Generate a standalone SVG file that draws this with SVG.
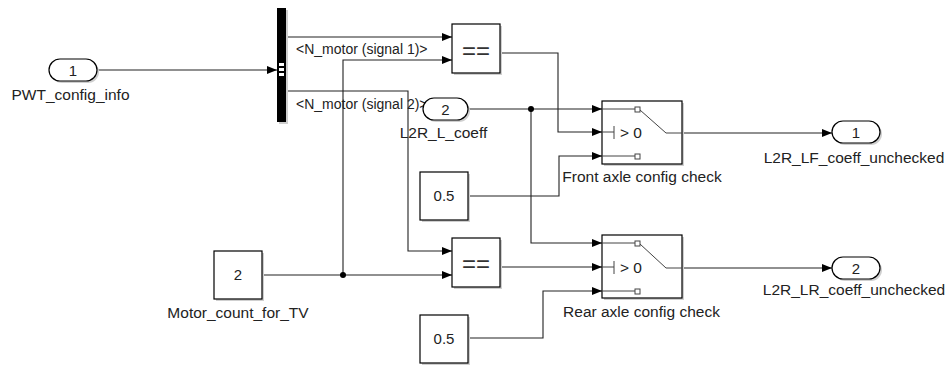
<svg xmlns="http://www.w3.org/2000/svg" width="949" height="365" viewBox="0 0 949 365">
<defs>
<marker id="arr" viewBox="0 0 10 8" refX="10" refY="4" markerWidth="10" markerHeight="8" markerUnits="userSpaceOnUse" orient="auto">
<path d="M0,0 L10,4 L0,8 Z" fill="#000"/>
</marker>
</defs>
<style>
.blk{fill:#fff;stroke:#000;stroke-width:1.2}
.shd{fill:#cfcfcf;stroke:none}
.ln{fill:none;stroke:#222;stroke-width:1.1}
.ar{marker-end:url(#arr)}
.lbl{font-family:"Liberation Sans",Arial,sans-serif;font-size:15.5px;fill:#222}
.sig{font-family:"Liberation Sans",Arial,sans-serif;font-size:14px;fill:#222}
.num{font-family:"Liberation Sans",Arial,sans-serif;font-size:15px;fill:#222;text-anchor:middle}
.eq{font-family:"Liberation Sans",Arial,sans-serif;font-size:24px;fill:#333;text-anchor:middle}
.mid{text-anchor:middle}
.sw{fill:none;stroke:#444;stroke-width:1}
.dot{fill:#000}
</style>

<g id="connectors">
<path class="ln ar" d="M97,70 H277"/>
<path class="ln ar" d="M286,37 H452"/>
<path class="ln ar" d="M286,91 H408 V251 H452"/>
<path class="ln ar" d="M262,275 H452"/>
<path class="ln ar" d="M343,275 V60 H452"/>
<path class="ln ar" d="M500,53 H558 V132 H602"/>
<path class="ln ar" d="M468,109 H602"/>
<path class="ln ar" d="M531,109 V243 H602"/>
<path class="ln ar" d="M468,196 H559 V156 H602"/>
<path class="ln ar" d="M682,133 H832"/>
<path class="ln ar" d="M500,267 H602"/>
<path class="ln ar" d="M468,338 H543 V291 H602"/>
<path class="ln ar" d="M682,268 H832"/>
<circle class="dot" cx="531" cy="109" r="3"/>
<circle class="dot" cx="343" cy="275" r="3"/>
<text class="sig" x="296" y="54">&lt;N_motor (signal 1)&gt;</text>
<text class="sig" x="296" y="109">&lt;N_motor (signal 2)&gt;</text>
</g>

<g id="in1">
<rect class="shd" x="51" y="61" width="48" height="22" rx="11"/>
<rect class="blk" x="49" y="59" width="48" height="22" rx="11"/>
<text class="num" x="73" y="75.5">1</text>
<text class="lbl mid" x="70.5" y="100">PWT_config_info</text>
</g>

<g id="bus">
<rect x="279" y="10" width="9" height="114" fill="#cfcfcf"/>
<rect x="277" y="8" width="9" height="114" fill="#000"/>
<rect x="279" y="63" width="5" height="3" fill="#fff"/>
<rect x="279" y="68" width="5" height="3" fill="#fff"/>
<rect x="279" y="73" width="5" height="3" fill="#fff"/>
</g>

<g id="eq1">
<rect class="shd" x="454" y="26" width="48" height="49"/>
<rect class="blk" x="452" y="24" width="48" height="49"/>
<text class="eq" x="476" y="59">==</text>
</g>

<g id="eq2">
<rect class="shd" x="454" y="240" width="48" height="49"/>
<rect class="blk" x="452" y="238" width="48" height="49"/>
<text class="eq" x="476" y="272">==</text>
</g>

<g id="const2">
<rect class="shd" x="216" y="253" width="48" height="48"/>
<rect class="blk" x="214" y="251" width="48" height="48"/>
<text class="num" x="238" y="280">2</text>
<text class="lbl mid" x="238" y="318">Motor_count_for_TV</text>
</g>

<g id="in2">
<rect class="shd" x="425" y="100" width="45" height="22" rx="11"/>
<rect class="blk" x="423" y="98" width="45" height="22" rx="11"/>
<text class="num" x="445.5" y="114.5">2</text>
<text class="lbl mid" x="443.5" y="138">L2R_L_coeff</text>
</g>

<g id="const05a">
<rect class="shd" x="422" y="174" width="48" height="48"/>
<rect class="blk" x="420" y="172" width="48" height="48"/>
<text class="num" x="444" y="201">0.5</text>
</g>

<g id="const05b">
<rect class="shd" x="422" y="317" width="48" height="48"/>
<rect class="blk" x="420" y="315" width="48" height="48"/>
<text class="num" x="444" y="344">0.5</text>
</g>

<g id="switch1">
<rect class="shd" x="604" y="103" width="80" height="63"/>
<rect class="blk" x="602" y="101" width="80" height="63"/>
<path class="sw" d="M602,109 H635 M640,110 L666,133 H682 M602,132 H614 M614,126 V139 M602,156 H635"/>
<rect x="635" y="107" width="5" height="5" fill="#fff" stroke="#444" stroke-width="1"/>
<rect x="635" y="154" width="5" height="5" fill="#fff" stroke="#444" stroke-width="1"/>
<text class="lbl" x="620" y="138">&gt; 0</text>
<text class="lbl mid" x="642" y="182">Front axle config check</text>
</g>

<g id="switch2">
<rect class="shd" x="604" y="237" width="80" height="63"/>
<rect class="blk" x="602" y="235" width="80" height="63"/>
<path class="sw" d="M602,243 H635 M640,244 L666,268 H682 M602,267 H614 M614,261 V274 M602,291 H635"/>
<rect x="635" y="241" width="5" height="5" fill="#fff" stroke="#444" stroke-width="1"/>
<rect x="635" y="289" width="5" height="5" fill="#fff" stroke="#444" stroke-width="1"/>
<text class="lbl" x="620" y="273">&gt; 0</text>
<text class="lbl mid" x="641.5" y="317">Rear axle config check</text>
</g>

<g id="out1">
<rect class="shd" x="834" y="123" width="48" height="22" rx="11"/>
<rect class="blk" x="832" y="121" width="48" height="22" rx="11"/>
<text class="num" x="856" y="138">1</text>
<text class="lbl mid" x="854" y="163">L2R_LF_coeff_unchecked</text>
</g>

<g id="out2">
<rect class="shd" x="834" y="259" width="48" height="22" rx="11"/>
<rect class="blk" x="832" y="257" width="48" height="22" rx="11"/>
<text class="num" x="856" y="273.5">2</text>
<text class="lbl mid" x="854" y="295">L2R_LR_coeff_unchecked</text>
</g>
</svg>
